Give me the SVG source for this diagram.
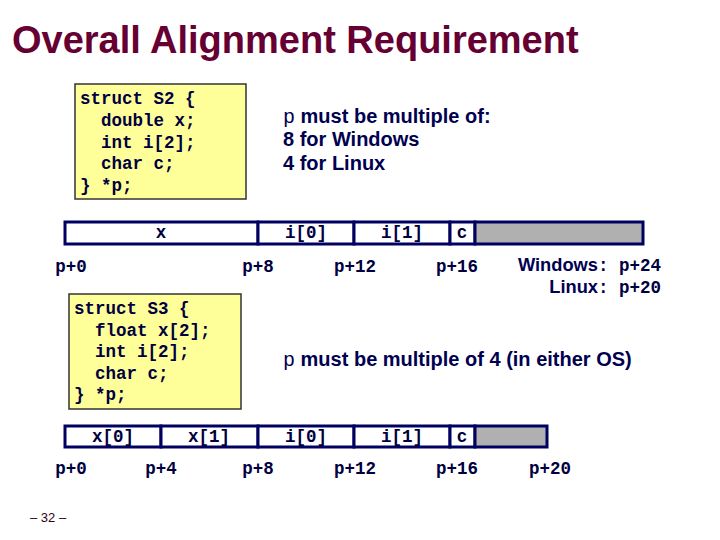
<svg xmlns="http://www.w3.org/2000/svg" width="720" height="540" viewBox="0 0 720 540">
<style>
.title{font-family:"Liberation Sans",Arial,sans-serif;font-weight:bold;font-size:38px;fill:#660033}
.code{font-family:"Liberation Mono","Courier New",monospace;font-weight:bold;font-size:17.5px;fill:#000040;white-space:pre}
.note{font-family:"Liberation Sans",Arial,sans-serif;font-weight:bold;font-size:20px;fill:#000050}
.os{font-family:"Liberation Sans",Arial,sans-serif;font-weight:bold;font-size:18.3px;fill:#000050;text-anchor:end}
.mono{font-family:"Liberation Mono","Courier New",monospace;font-size:20px;fill:#000050;font-weight:normal}
.cell{fill:#ffffff;stroke:#000060;stroke-width:3}
.pad{fill:#b0b0b0;stroke:#000060;stroke-width:3}
.box{fill:#ffff99;stroke:#333333;stroke-width:1.5}
.lbl{font-family:"Liberation Mono","Courier New",monospace;font-weight:bold;font-size:17.5px;fill:#000040;text-anchor:middle}
.lbs{font-family:"Liberation Mono","Courier New",monospace;font-weight:bold;font-size:17.5px;fill:#000040;white-space:pre}
.foot{font-family:"Liberation Sans",Arial,sans-serif;font-size:13px;fill:#330011}
</style>
<rect width="720" height="540" fill="#ffffff"/>
<text class="title" x="12" y="53">Overall Alignment Requirement</text>

<g id="s2">
<rect class="box" x="75" y="84" width="171" height="115"/>
<text class="code" x="80" y="104" xml:space="preserve">struct S2 {</text>
<text class="code" x="80" y="126" xml:space="preserve">  double x;</text>
<text class="code" x="80" y="148" xml:space="preserve">  int i[2];</text>
<text class="code" x="80" y="169" xml:space="preserve">  char c;</text>
<text class="code" x="80" y="191" xml:space="preserve">} *p;</text>
</g>
<g id="note1">
<text class="note" x="283" y="123"><tspan class="mono">p</tspan> must be multiple of:</text>
<text class="note" x="283" y="146">8 for Windows</text>
<text class="note" x="283" y="170">4 for Linux</text>
</g>

<g id="row1">
<rect class="cell" x="65" y="222" width="193" height="22"/>
<rect class="cell" x="258" y="222" width="96" height="22"/>
<rect class="cell" x="354" y="222" width="96" height="22"/>
<rect class="cell" x="450" y="222" width="25" height="22"/>
<rect class="pad" x="475" y="222" width="168" height="22"/>
<text class="lbl" x="161" y="238">x</text>
<text class="lbl" x="306" y="238">i[0]</text>
<text class="lbl" x="402" y="238">i[1]</text>
<text class="lbl" x="462" y="238">c</text>
</g>
<g id="addr1">
<text class="lbl" x="71" y="272">p+0</text>
<text class="lbl" x="258" y="272">p+8</text>
<text class="lbl" x="355" y="272">p+12</text>
<text class="lbl" x="457" y="272">p+16</text>
<text class="os" x="598" y="271">Windows</text>
<text class="lbs" x="598" y="271" xml:space="preserve">: p+24</text>
<text class="os" x="598" y="293">Linux</text>
<text class="lbs" x="598" y="293" xml:space="preserve">: p+20</text>
</g>

<g id="s3">
<rect class="box" x="69" y="294" width="172" height="115"/>
<text class="code" x="74" y="314" xml:space="preserve">struct S3 {</text>
<text class="code" x="74" y="336" xml:space="preserve">  float x[2];</text>
<text class="code" x="74" y="357" xml:space="preserve">  int i[2];</text>
<text class="code" x="74" y="379" xml:space="preserve">  char c;</text>
<text class="code" x="74" y="400" xml:space="preserve">} *p;</text>
</g>
<g id="note2">
<text class="note" x="283" y="366"><tspan class="mono">p</tspan> must be multiple of 4 (in either OS)</text>
</g>

<g id="row2">
<rect class="cell" x="65" y="426" width="96" height="21"/>
<rect class="cell" x="161" y="426" width="97" height="21"/>
<rect class="cell" x="258" y="426" width="96" height="21"/>
<rect class="cell" x="354" y="426" width="96" height="21"/>
<rect class="cell" x="450" y="426" width="25" height="21"/>
<rect class="pad" x="475" y="426" width="72" height="21"/>
<text class="lbl" x="113" y="442">x[0]</text>
<text class="lbl" x="209" y="442">x[1]</text>
<text class="lbl" x="306" y="442">i[0]</text>
<text class="lbl" x="402" y="442">i[1]</text>
<text class="lbl" x="462" y="442">c</text>
</g>
<g id="addr2">
<text class="lbl" x="71" y="474">p+0</text>
<text class="lbl" x="161" y="474">p+4</text>
<text class="lbl" x="258" y="474">p+8</text>
<text class="lbl" x="355" y="474">p+12</text>
<text class="lbl" x="457" y="474">p+16</text>
<text class="lbl" x="550" y="474">p+20</text>
</g>
<text class="foot" x="30" y="522">– 32 –</text>
</svg>
